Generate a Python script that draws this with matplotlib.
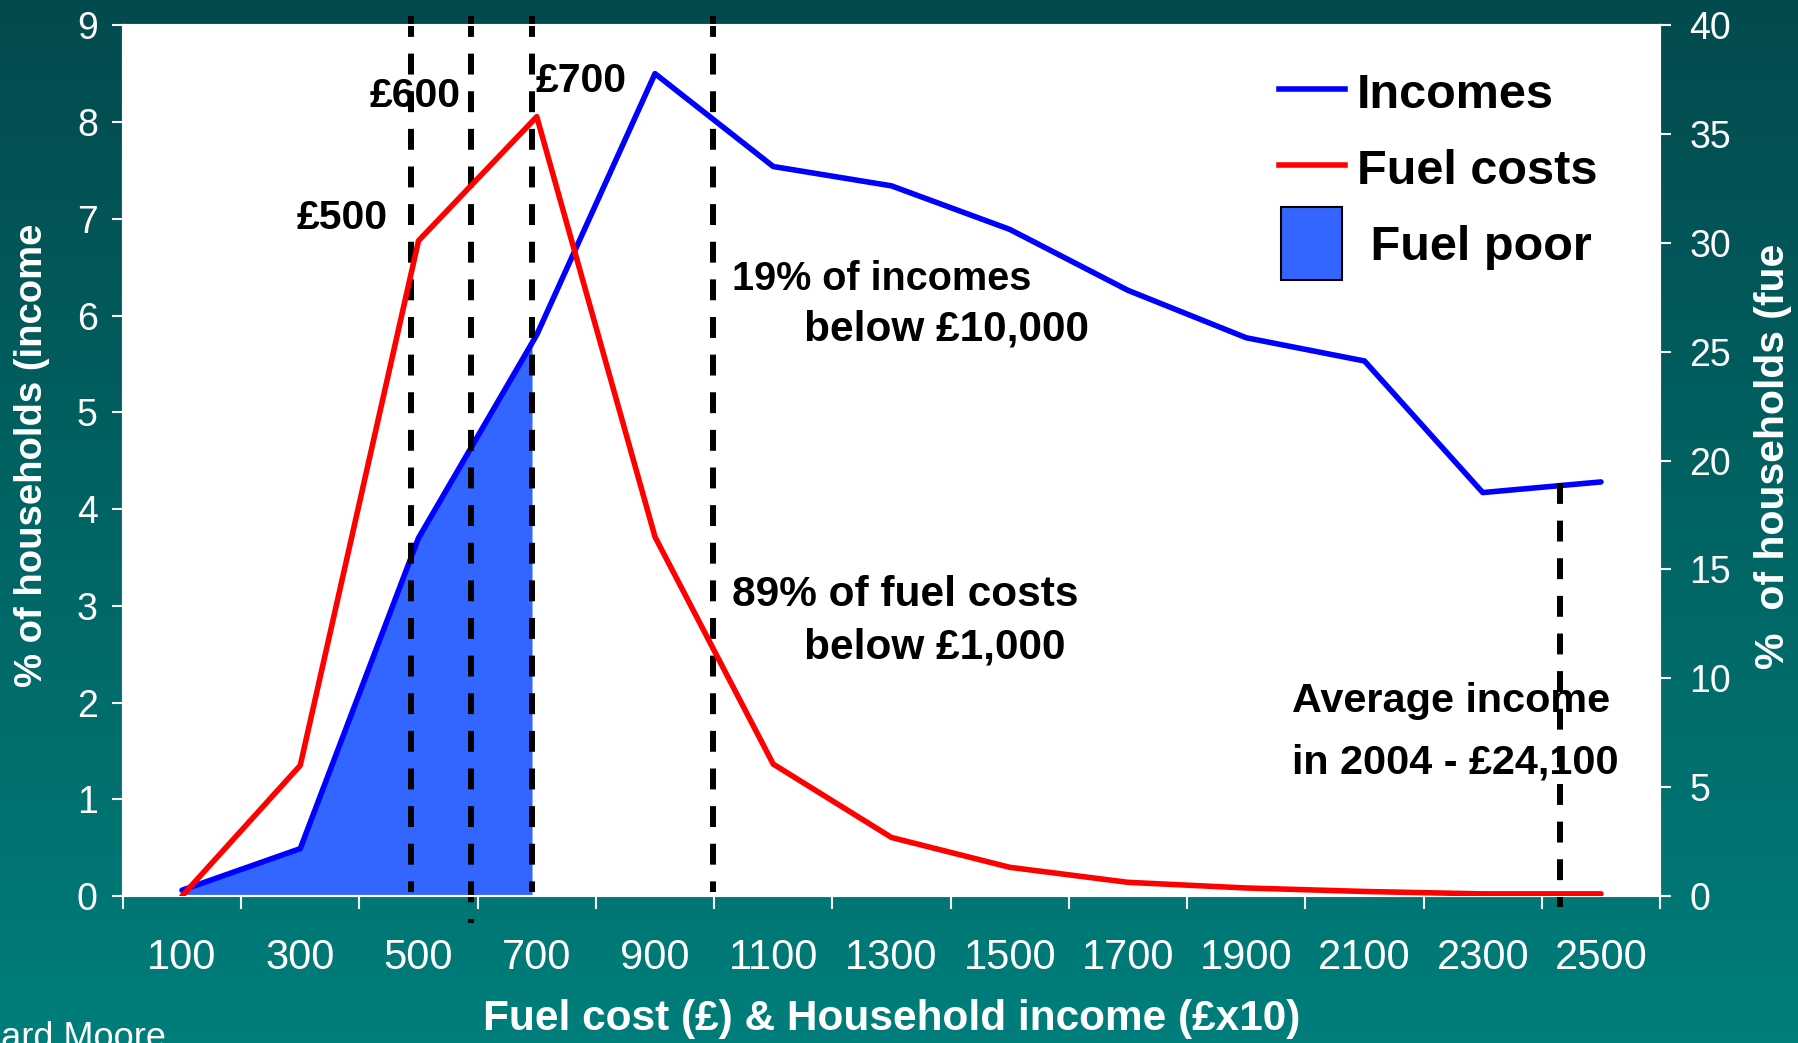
import numpy as np
import matplotlib.pyplot as plt
from matplotlib import font_manager
from matplotlib.colors import LinearSegmentedColormap
from matplotlib.legend_handler import HandlerPatch
from matplotlib.lines import Line2D
from matplotlib.patches import Patch, Rectangle

# data
categories = ['100', '300', '500', '700', '900', '1100', '1300', '1500',
              '1700', '1900', '2100', '2300', '2500']
incomes = [0.06, 0.49, 3.7, 5.8, 8.5, 7.54, 7.34, 6.89, 6.26, 5.77, 5.53, 4.17, 4.28]
fuel_costs = [0.0, 6.0, 30.1, 35.8, 16.5, 6.06, 2.69, 1.32, 0.63, 0.37, 0.21, 0.1, 0.1]
# where the dashed marker lines sit on the x scale (£500, £600, £700, £10,000)
threshold_values = [487, 589, 692, 998]
avg_income = 2431          # average income line (£24,100 in £x10)
fuel_poor_end = 692        # shading stops at the £700 line

names = {f.name for f in font_manager.fontManager.ttflist}
narrow = 'Liberation Sans Narrow' if 'Liberation Sans Narrow' in names else 'Liberation Sans'
plt.rcParams['font.family'] = ['Liberation Sans', 'DejaVu Sans']


def to_pos(v):
    # category axis: 100, 300, ... sit at 0, 1, ...
    return (v - 100) / 200.0


fig = plt.figure(figsize=(17.99, 10.43), dpi=100)

# teal gradient background
bg = fig.add_axes([0, 0, 1, 1], zorder=-10)
cmap = LinearSegmentedColormap.from_list('teal', ['#034A4D', '#007E7B'])
bg.imshow(np.linspace(0, 1, 256).reshape(-1, 1), aspect='auto', cmap=cmap,
          extent=[0, 1, 0, 1], origin='upper')
bg.axis('off')

ax = fig.add_axes([0.0683, 0.1409, 0.8545, 0.8349])
ax.set_facecolor('white')
x = np.arange(len(categories))

# fuel poor shading under the income curve up to the £700 line
xe = to_pos(fuel_poor_end)
xs = np.append(x[x < xe], xe)
ax.fill_between(xs, np.interp(xs, x, incomes), color='#3366FF', lw=0, zorder=1)
ax.plot(x, incomes, color='#0000FF', lw=4, zorder=3, solid_capstyle='round')

dash = dict(color='black', lw=4.3, dashes=(3.5, 2.8), zorder=4, clip_on=False)
for v in threshold_values:
    bottom = -0.28 if v == 589 else 0.04
    ax.plot([to_pos(v)] * 2, [9.1, bottom], **dash)
ax.plot([to_pos(avg_income)] * 2, [4.27, -0.11], **dash)

ax.set_xlim(-0.5, len(categories) - 0.5)
ax.set_ylim(0, 9)
ax.set_xticks(np.arange(-0.5, len(categories), 1))
ax.set_xticklabels([])
ax.set_xticks(x, minor=True)
ax.set_xticklabels(categories, minor=True, fontfamily=narrow)
ax.tick_params(axis='x', which='major', direction='out', length=9.5, width=1.5, color='white')
ax.tick_params(axis='x', which='minor', length=0, pad=30, labelsize=30, labelcolor='white')
ax.set_yticks(range(10))
ax.tick_params(axis='y', direction='out', length=8, width=1.5, color='white',
               labelcolor='white', labelsize=27, pad=10)
for s in ax.spines.values():
    s.set_color('white')
    s.set_linewidth(1.5)

ax2 = ax.twinx()
ax2.plot(x, fuel_costs, color='#FF0000', lw=4, zorder=3, solid_capstyle='round')
ax2.set_ylim(0, 40)
ax2.set_yticks(range(0, 41, 5))
ax2.tick_params(axis='y', direction='out', length=8, width=1.5, color='white',
                labelcolor='white', labelsize=27, pad=13)
for s in ax2.spines.values():
    s.set_color('white')
    s.set_linewidth(1.5)


def tall_box(legend, orig_handle, xdescent, ydescent, width, height, fontsize):
    w = width * 0.93
    h = fontsize * 1.5
    return Rectangle((-xdescent + (width - w) / 2, -ydescent + (height - h) / 2), w, h)


handles = [Line2D([], [], color='#0000FF', lw=4),
           Line2D([], [], color='#FF0000', lw=4),
           Patch(facecolor='#3366FF', edgecolor='black', lw=1.5)]
ax2.legend(handles, ['Incomes', 'Fuel costs', ' Fuel poor'], loc='upper left',
           bbox_to_anchor=(0.752, 0.949), frameon=False,
           prop={'weight': 'bold', 'size': 35}, handlelength=1.35,
           handleheight=1.0, handletextpad=0.25, labelspacing=0.57,
           borderpad=0, borderaxespad=0,
           handler_map={Patch: HandlerPatch(patch_func=tall_box)})

txt = dict(fontweight='bold', color='black', va='center', zorder=2)
ax.text(1.74, 7.01, '£500', ha='right', fontsize=29.5, **txt)
ax.text(1.97, 8.27, '£600', ha='center', fontsize=29.5, **txt)
ax.text(2.99, 8.42, '£700', ha='left', fontsize=29.5, **txt)
ax.text(4.65, 6.38, '19% of incomes', ha='left', fontsize=28.5, **txt)
ax.text(5.26, 5.86, 'below £10,000', ha='left', fontsize=30.5, **txt)
ax.text(4.65, 3.11, '89% of fuel costs', ha='left', fontsize=30.5, **txt)
ax.text(5.26, 2.57, 'below £1,000', ha='left', fontsize=30.5, **txt)
ax.text(9.39, 2.02, 'Average income', ha='left', fontsize=29.8, **txt)
ax.text(9.39, 1.38, 'in 2004 - £24,100', ha='left', fontsize=29.8, **txt)

fig.text(0.0178, 0.5637, '% of households (income', rotation=90, ha='center', va='center',
         color='white', fontsize=27.5, fontweight='bold')
fig.text(0.9856, 0.5628, '%  of households (fue', rotation=90, ha='center', va='center',
         color='white', fontsize=29.5, fontweight='bold')
fig.text(0.4955, 0.0232, 'Fuel cost (£) & Household income (£x10)', ha='center',
         va='center', color='white', fontsize=30.5, fontweight='bold', fontfamily=narrow)
fig.text(0.0924, 0.004, 'Richard Moore', ha='right', va='center', color='white',
         fontsize=26, fontfamily=narrow)

fig.savefig('out.png', dpi=100)
